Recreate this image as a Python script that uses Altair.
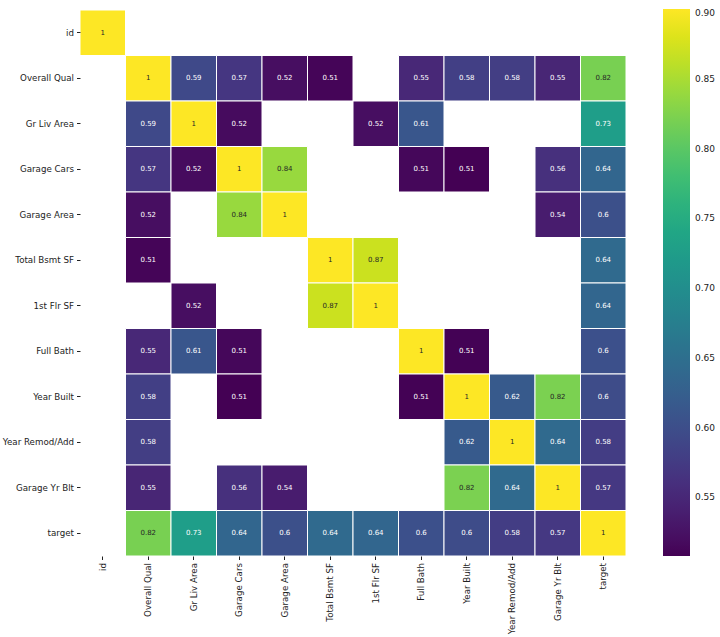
import altair as alt
import pandas as pd

labels = ["id", "Overall Qual", "Gr Liv Area", "Garage Cars", "Garage Area",
          "Total Bsmt SF", "1st Flr SF", "Full Bath", "Year Built",
          "Year Remod/Add", "Garage Yr Blt", "target"]

N = None
# correlation matrix, cells with |r| <= 0.5 masked (None)
matrix = [
    [1.0, N, N, N, N, N, N, N, N, N, N, N],
    [N, 1.0, 0.593, 0.568, 0.521, 0.512, N, 0.551, 0.580, 0.578, 0.548, 0.820],
    [N, 0.593, 1.0, 0.518, N, N, 0.521, 0.613, N, N, N, 0.727],
    [N, 0.568, 0.518, 1.0, 0.840, N, N, 0.514, 0.508, N, 0.561, 0.636],
    [N, 0.521, N, 0.840, 1.0, N, N, N, N, N, 0.537, 0.602],
    [N, 0.512, N, N, N, 1.0, 0.870, N, N, N, N, 0.642],
    [N, N, 0.521, N, N, 0.870, 1.0, N, N, N, N, 0.636],
    [N, 0.551, 0.613, 0.514, N, N, N, 1.0, 0.509, N, N, 0.603],
    [N, 0.580, N, 0.508, N, N, N, 0.509, 1.0, 0.618, 0.822, 0.597],
    [N, 0.578, N, N, N, N, N, N, 0.618, 1.0, 0.642, 0.577],
    [N, 0.548, N, 0.561, 0.537, N, N, N, 0.822, 0.642, 1.0, 0.571],
    [N, 0.820, 0.727, 0.636, 0.602, 0.642, 0.636, 0.603, 0.597, 0.577, 0.571, 1.0],
]
legend_ticks = [0.55, 0.60, 0.65, 0.70, 0.75, 0.80, 0.85, 0.90]
vmax = 0.90

rows = []
for i, rl in enumerate(labels):
    for j, cl in enumerate(labels):
        v = matrix[i][j]
        if v is not None:
            rows.append({"row": rl, "col": cl, "value": v})
df = pd.DataFrame(rows)
vmin = float(df["value"].min())

FS = 8.7
x = alt.X("col:N", sort=labels, title=None,
          axis=alt.Axis(labelAngle=270, tickSize=3.5, domain=False,
                        labelFontSize=FS, labelColor="#222", tickColor="#222",
                        labelFont="DejaVu Sans", labelPadding=3))
y = alt.Y("row:N", sort=labels, title=None,
          axis=alt.Axis(tickSize=3.5, domain=False, labelFontSize=FS,
                        labelColor="#222", tickColor="#222",
                        labelFont="DejaVu Sans", labelPadding=3))

base = alt.Chart(df).encode(x=x, y=y)

rect = base.mark_rect(stroke="white", strokeWidth=1).encode(
    color=alt.Color("value:Q",
                    scale=alt.Scale(scheme="viridis", domain=[vmin, vmax], clamp=True),
                    legend=alt.Legend(title=None, orient="none", legendX=583, legendY=-1,
                                      direction="vertical", gradientLength=547,
                                      gradientThickness=27, values=legend_ticks,
                                      format=".2f", labelFontSize=9,
                                      labelFont="DejaVu Sans", labelColor="#222",
                                      labelOffset=5, gradientStrokeWidth=0))
)

text = base.mark_text(fontSize=7, font="DejaVu Sans").encode(
    text=alt.Text("value:Q", format=".2~r"),
    color=alt.condition("datum.value > 0.78", alt.value("#262626"), alt.value("#ffffff")),
)

chart = (rect + text).properties(
    width=546, height=546,
    autosize=alt.AutoSizeParams(type="none"),
    padding={"left": 80, "top": 10, "right": 94, "bottom": 81},
).configure_view(stroke=None).configure_axis(grid=False)

chart.save("out.html", embed_options={"renderer": "svg", "actions": False})
